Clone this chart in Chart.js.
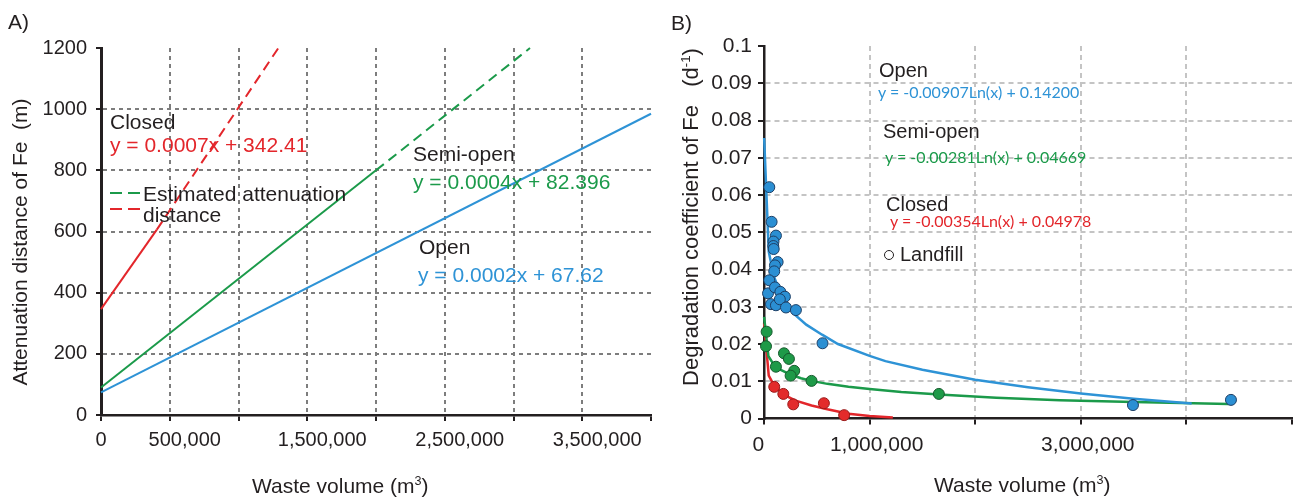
<!DOCTYPE html>
<html>
<head>
<meta charset="utf-8">
<script src="https://cdn.jsdelivr.net/npm/chart.js@4.4.1/dist/chart.umd.min.js"></script>
<style>
  body { margin: 0; background: #fff; }
  #wrap { position: relative; width: 1296px; height: 497px; overflow: hidden; font-family: 'Liberation Sans', Arial, sans-serif; color: #231f20; }
  canvas { position: absolute; top: 0; }
  .t { position: absolute; white-space: nowrap; line-height: 1; transform: translateY(-50%); }
  .eq { font-family: Lato, 'Open Sans', sans-serif; font-size: 16px; }
  .rot { position: absolute; white-space: nowrap; line-height: 1; transform: translate(-50%, -50%) rotate(-90deg); }
  sup { font-size: 0.6em; line-height: 0; vertical-align: 0.6em; }
  .dash { position: absolute; height: 2px; width: 12px; }
</style>
</head>
<body>
<div id="wrap">
  <canvas id="chartA" width="660" height="497" style="left:0"></canvas>
  <canvas id="chartB" width="640" height="497" style="left:660px"></canvas>

  <div class="t" style="left:8px;top:21px;font-size:21px">A)</div>
  <div class="rot" style="left:19px;top:242px;font-size:21px">Attenuation distance of Fe&nbsp;&nbsp;(m)</div>
  <div class="t" style="left:252px;top:485px;font-size:21px">Waste volume (m<sup>3</sup>)</div>

  <div class="t" style="left:110px;top:121px;font-size:21px">Closed</div>
  <div class="t" style="left:110px;top:144px;font-size:21px;color:#e3262b">y = 0.0007x + 342.41</div>
  <div class="dash" style="left:110px;top:192px;background:#1b9a4a"></div>
  <div class="dash" style="left:128px;top:192px;background:#1b9a4a"></div>
  <div class="t" style="left:143px;top:193px;font-size:21px">Estimated attenuation</div>
  <div class="dash" style="left:110px;top:208px;background:#e3262b"></div>
  <div class="dash" style="left:128px;top:208px;background:#e3262b"></div>
  <div class="t" style="left:143px;top:214px;font-size:21px">distance</div>
  <div class="t" style="left:413px;top:153px;font-size:21px">Semi-open</div>
  <div class="t" style="left:413px;top:181px;font-size:21px;color:#1b9a4a">y = 0.0004x + 82.396</div>
  <div class="t" style="left:419px;top:246px;font-size:21px">Open</div>
  <div class="t" style="left:418px;top:274px;font-size:21px;color:#2e93d6">y = 0.0002x + 67.62</div>

  <div class="t" style="left:671px;top:22px;font-size:21px">B)</div>
  <div class="rot" style="left:691px;top:217px;font-size:22px">Degradation coefficient of Fe&nbsp;&nbsp;&nbsp;(d<sup>-1</sup>)</div>
  <div class="t" style="left:934px;top:484px;font-size:21px">Waste volume (m<sup>3</sup>)</div>

  <div class="t" style="left:879px;top:70px;font-size:20px">Open</div>
  <div class="t eq" style="left:878px;top:92px;color:#2e93d6">y = -0.00907Ln(x) + 0.14200</div>
  <div class="t" style="left:883px;top:131px;font-size:20px">Semi-open</div>
  <div class="t eq" style="left:885px;top:157px;color:#1b9a4a">y = -0.00281Ln(x) + 0.04669</div>
  <div class="t" style="left:886px;top:204px;font-size:20px">Closed</div>
  <div class="t eq" style="left:890px;top:221px;color:#e3262b">y = -0.00354Ln(x) + 0.04978</div>
  <div style="position:absolute;left:884px;top:250px;width:8px;height:8px;border:1px solid #231f20;border-radius:50%"></div>
  <div class="t" style="left:900px;top:254px;font-size:20px">Landfill</div>
</div>

<script>
// ---- A) attenuation distance ----
const xTicksA = [0, 500000, 1000000, 1500000, 2000000, 2500000, 3000000, 3500000, 4000000];
const xLabelsA = ['0\u2002\u2002\u2002', '500,000', '', '1,500,000', '', '2,500,000', '', '3,500,000', ''];
const yTicksA = [0, 200, 400, 600, 800, 1000, 1200];
const yLabelsA = ['0', '200', '400', '600', '800', '1000', '1200'];

const closedX = [0, 406000];
const closedY = [346, 606];
const closedEstX = [406000, 1290000];
const closedEstY = [606, 1200];
const semiX = [0, 2000000];
const semiY = [90, 800];
const semiEstX = [2000000, 3120000];
const semiEstY = [800, 1200];
const openX = [0, 4000000];
const openY = [74, 985];

// ---- B) degradation coefficient ----
const xTicksB = [0, 1000000, 2000000, 3000000, 4000000, 5000000];
const xLabelsB = ['0\u2002\u2002\u2009', '1,000,000', '', '3,000,000', '', ''];
const yTicksB = [0, 0.01, 0.02, 0.03, 0.04, 0.05, 0.06, 0.07, 0.08, 0.09, 0.1];
const yLabelsB = ['0', '0.01', '0.02', '0.03', '0.04', '0.05', '0.06', '0.07', '0.08', '0.09', '0.1'];

const openPtX = [50000, 72000, 113000, 90000, 88000, 92000, 129000, 104000, 97000, 50000, 38000, 104000, 155000, 198000, 66000, 113000, 150000, 208000, 302000, 554000, 3494000, 4422000];
const openPtY = [0.0621, 0.0528, 0.0491, 0.0475, 0.0463, 0.0455, 0.0420, 0.0411, 0.0395, 0.0371, 0.0336, 0.0352, 0.0340, 0.0327, 0.0307, 0.0304, 0.0320, 0.0298, 0.0291, 0.0202, 0.0036, 0.0050];
const semiPtX = [25000, 19000, 189000, 236000, 113000, 286000, 252000, 450000, 1656000];
const semiPtY = [0.0233, 0.0194, 0.0175, 0.0160, 0.0139, 0.0128, 0.0115, 0.0101, 0.0066];
const closedPtX = [97000, 183000, 277000, 567000, 759000];
const closedPtY = [0.0085, 0.0066, 0.0038, 0.0041, 0.0009];

const openFitX = [1500, 45000, 90000, 150000, 200000, 300000, 400000, 550000, 700000, 1000000, 1150000, 1500000, 2000000, 2500000, 3000000, 3500000, 4050000];
const openFitY = [0.0753, 0.0448, 0.0385, 0.0339, 0.0313, 0.0277, 0.0252, 0.0225, 0.0200, 0.0168, 0.0154, 0.0131, 0.0104, 0.0084, 0.0067, 0.0053, 0.0040];
const semiFitX = [1000, 42000, 90000, 150000, 250000, 350000, 450000, 600000, 800000, 1000000, 1300000, 1700000, 2200000, 2800000, 3500000, 4400000];
const semiFitY = [0.0273, 0.0167, 0.0146, 0.0132, 0.0118, 0.0108, 0.0101, 0.0093, 0.0085, 0.0079, 0.0071, 0.0064, 0.0056, 0.0049, 0.0044, 0.0039];
const closedFitX = [1000, 45000, 100000, 200000, 300000, 450000, 600000, 800000, 1000000, 1220000];
const closedFitY = [0.0255, 0.0115, 0.0086, 0.0062, 0.0048, 0.0035, 0.0025, 0.0013, 0.0007, 0.0003];

const RED = '#e3262b', GREEN = '#1b9a4a', BLUE = '#2e93d6';
const FONT = "'Liberation Sans', Arial, sans-serif";

const pts = (xs, ys) => xs.map((x, i) => ({ x: x, y: ys[i] }));

function lineSet(xs, ys, color, dash) {
  return { data: pts(xs, ys), showLine: true, borderColor: color, borderWidth: 2,
           borderDash: dash || [], pointRadius: 0, tension: 0, clip: false };
}

function hideAt(values, color) {
  return ctx => (ctx.tick && values.includes(ctx.tick.value)) ? 'rgba(0,0,0,0)' : color;
}

new Chart(document.getElementById('chartA'), {
  type: 'scatter',
  data: {
    datasets: [
      lineSet(closedX, closedY, RED),
      lineSet(closedEstX, closedEstY, RED, [10, 6]),
      lineSet(semiX, semiY, GREEN),
      lineSet(semiEstX, semiEstY, GREEN, [10, 6]),
      lineSet(openX, openY, BLUE)
    ]
  },
  options: {
    responsive: false, animation: false, devicePixelRatio: 1,
    layout: { padding: { top: 48, right: 9, left: 0, bottom: 0 } },
    plugins: { legend: { display: false }, tooltip: { enabled: false } },
    scales: {
      x: {
        type: 'linear', min: 0, max: 4000000,
        afterBuildTicks: s => { s.ticks = xTicksA.map(v => ({ value: v })); },
        afterFit: s => { s.height = 82; },
        ticks: { autoSkip: false, maxRotation: 0, minRotation: 0, labelOffset: 15, padding: 7,
                 color: '#231f20', font: { family: FONT, size: 20 },
                 callback: (v, i) => xLabelsA[i] },
        grid: { color: hideAt([0, 4000000], '#7d7d7d'), lineWidth: 2,
                tickColor: '#231f20', tickLength: 6, tickWidth: 2 },
        border: { color: '#231f20', width: 2.5, dash: [4, 4] }
      },
      y: {
        min: 0, max: 1200,
        afterBuildTicks: s => { s.ticks = yTicksA.map(v => ({ value: v })); },
        afterFit: s => { s.width = 101; },
        ticks: { padding: 9, color: '#231f20', font: { family: FONT, size: 20 },
                 callback: (v, i) => yLabelsA[i] },
        grid: { color: hideAt([0, 1200], '#7d7d7d'), lineWidth: 2,
                tickColor: '#231f20', tickLength: 5, tickWidth: 2 },
        border: { color: '#231f20', width: 3, dash: [4, 4] }
      }
    }
  }
});

function pointSet(xs, ys, fill, edge) {
  return { data: pts(xs, ys), backgroundColor: fill, borderColor: edge, borderWidth: 1,
           pointRadius: 5.5, order: 0, clip: false };
}

function fitSet(xs, ys, color) {
  return { data: pts(xs, ys), showLine: true, borderColor: color, borderWidth: 2.5,
           pointRadius: 0, tension: 0, order: 1, clip: false };
}

new Chart(document.getElementById('chartB'), {
  type: 'scatter',
  data: {
    datasets: [
      fitSet(openFitX, openFitY, BLUE),
      fitSet(semiFitX, semiFitY, GREEN),
      fitSet(closedFitX, closedFitY, RED),
      pointSet(openPtX, openPtY, '#2b8fd3', '#1d3f66'),
      pointSet(semiPtX, semiPtY, '#1e9a48', '#165a2d'),
      pointSet(closedPtX, closedPtY, '#e32b2b', '#9a1a1a')
    ]
  },
  options: {
    responsive: false, animation: false, devicePixelRatio: 1,
    layout: { padding: { top: 46, right: 0, left: 0, bottom: 0 } },
    plugins: { legend: { display: false }, tooltip: { enabled: false } },
    scales: {
      x: {
        type: 'linear', min: 0, max: 5000000,
        afterBuildTicks: s => { s.ticks = xTicksB.map(v => ({ value: v })); },
        afterFit: s => { s.height = 78.5; },
        ticks: { autoSkip: false, maxRotation: 0, minRotation: 0, labelOffset: 7, padding: 8,
                 color: '#231f20', font: { family: FONT, size: 21 },
                 callback: (v, i) => xLabelsB[i] },
        grid: { color: hideAt([0, 5000000], '#c4c4c4'), lineWidth: 2,
                tickColor: '#231f20', tickLength: 6, tickWidth: 2 },
        border: { color: '#231f20', width: 2.5, dash: [5, 4] }
      },
      y: {
        min: 0, max: 0.1,
        afterBuildTicks: s => { s.ticks = yTicksB.map(v => ({ value: v })); },
        afterFit: s => { s.width = 104; },
        ticks: { padding: 6, color: '#231f20', font: { family: FONT, size: 21 },
                 callback: (v, i) => yLabelsB[i] },
        grid: { color: hideAt([0, 0.1], '#c4c4c4'), lineWidth: 2,
                tickColor: '#231f20', tickLength: 6, tickWidth: 2 },
        border: { color: '#231f20', width: 2.5, dash: [5, 4] }
      }
    }
  }
});
</script>
</body>
</html>
